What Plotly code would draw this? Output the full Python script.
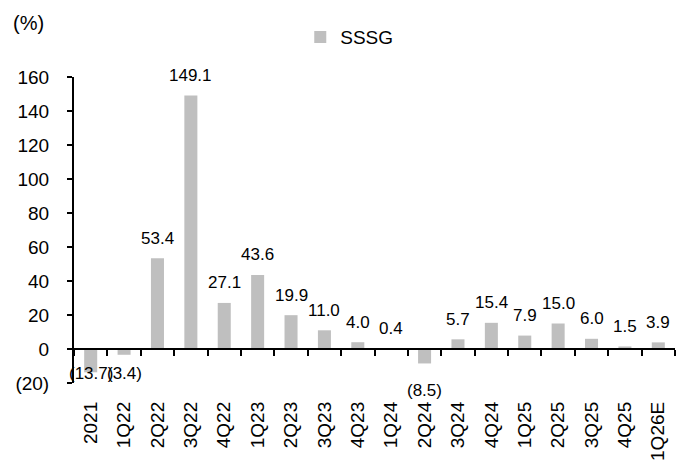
import plotly.graph_objects as go

categories = ["2021", "1Q22", "2Q22", "3Q22", "4Q22", "1Q23", "2Q23", "3Q23", "4Q23",
              "1Q24", "2Q24", "3Q24", "4Q24", "1Q25", "2Q25", "3Q25", "4Q25", "1Q26E"]
sssg = [-13.7, -3.4, 53.4, 149.1, 27.1, 43.6, 19.9, 11.0, 4.0,
        0.4, -8.5, 5.7, 15.4, 7.9, 15.0, 6.0, 1.5, 3.9]
y_ticks = [-20, 0, 20, 40, 60, 80, 100, 120, 140, 160]
y_ticktext = ["(20)", "0", "20", "40", "60", "80", "100", "120", "140", "160"]
series_name = "SSSG"
unit_label = "(%)"

FONT = "Liberation Sans, Arial, sans-serif"
BAR_COLOR = "#BFBFBF"
YMIN, YMAX = -20, 160


def fmt(v):
    return f"({abs(v):.1f})" if v < 0 else f"{v:.1f}"


fig = go.Figure()
fig.add_trace(go.Bar(x=categories, y=sssg, name=series_name, marker_color=BAR_COLOR,
                     marker_line_width=0, hoverinfo="skip"))
# invisible helper trace so the zero-line category axis has categories
fig.add_trace(go.Scatter(x=categories, y=[0] * len(categories), xaxis="x2", mode="markers",
                         marker=dict(opacity=0), showlegend=False, hoverinfo="skip"))

# data labels (Excel-like placement; first two negatives clamped at plot bottom)
clamped = {"2021", "1Q22"}
for i, (c, v) in enumerate(zip(categories, sssg)):
    lab_font = dict(family=FONT, size=17, color="black")
    if v >= 0:
        fig.add_annotation(x=i, y=v, text=fmt(v), showarrow=False, yanchor="middle",
                           yshift=20, font=lab_font)
    elif c in clamped:
        fig.add_annotation(x=i, y=YMIN, text=fmt(v), showarrow=False, yanchor="bottom",
                           yshift=-2, font=lab_font)
    else:
        fig.add_annotation(x=i, y=v, text=fmt(v), showarrow=False, yanchor="middle",
                           yshift=-27, font=lab_font)

fig.add_annotation(text=unit_label, xref="paper", yref="paper", x=-0.075, y=1.178,
                   xanchor="center", yanchor="middle", showarrow=False,
                   font=dict(family=FONT, size=20, color="black"))

# page body has an 8px default margin, so the figure is sized to fit the window
fig.update_layout(
    width=677, height=455,
    margin=dict(l=66, r=10, t=67, b=80),
    paper_bgcolor="white", plot_bgcolor="white",
    font=dict(family=FONT, size=19, color="black"),
    bargap=0.61,
    hovermode=False,
    showlegend=True,
    legend=dict(orientation="h", x=0.458, y=1.13, xanchor="center", yanchor="middle",
                font=dict(family=FONT, size=19, color="black"), bgcolor="rgba(0,0,0,0)"),
    xaxis=dict(type="category", categoryorder="array", categoryarray=categories,
               range=[-0.5, len(categories) - 0.5], showline=False, ticks="",
               tickangle=-90, showgrid=False, zeroline=False, automargin=False,
               ticklabelstandoff=14,
               tickfont=dict(family=FONT, size=19, color="black")),
    xaxis2=dict(type="category", categoryorder="array", categoryarray=categories,
                overlaying="x", anchor="free", position=(0 - YMIN) / (YMAX - YMIN),
                range=[-0.5, len(categories) - 0.5], showline=True, linecolor="black",
                linewidth=2, ticks="outside", tickson="boundaries", ticklen=6,
                tickwidth=2, tickcolor="black", showticklabels=False, showgrid=False,
                zeroline=False, automargin=False),
    yaxis=dict(range=[YMIN, YMAX], tickvals=y_ticks, ticktext=y_ticktext,
               showline=True, linecolor="black", linewidth=2, ticks="outside",
               ticklen=5, tickwidth=2, tickcolor="black", showgrid=False,
               zeroline=False, ticklabelstandoff=14, automargin=False,
               tickfont=dict(family=FONT, size=19, color="black")),
)

fig.write_html("out.html")
